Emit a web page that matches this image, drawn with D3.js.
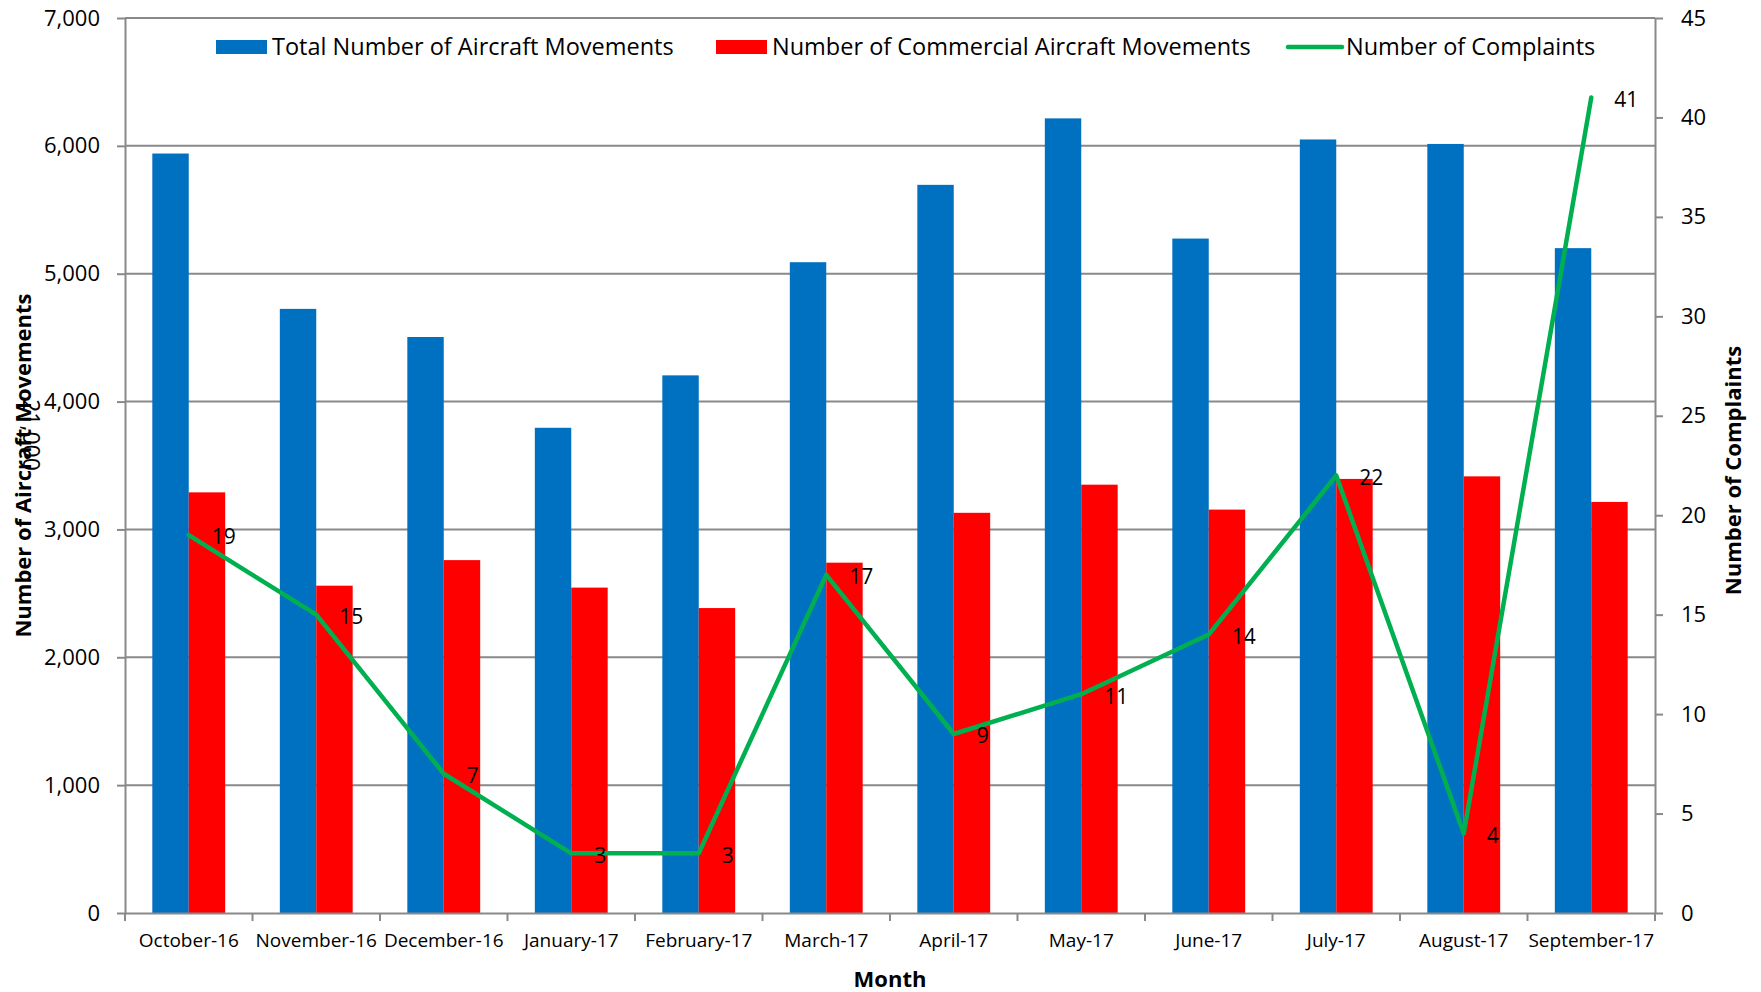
<!DOCTYPE html>
<html>
<head>
<meta charset="utf-8">
<script src="https://cdn.jsdelivr.net/npm/d3@7"></script>
<style>
  body { margin: 0; background: #fff; }
  svg text { font-family: "Open Sans", sans-serif; fill: #000; }
  .axis path, .axis line { stroke: #898989; stroke-width: 2; }
  .grid line { stroke: #898989; stroke-width: 2; }
</style>
</head>
<body>
<div id="chart"></div>
<script>
var months = ["October-16","November-16","December-16","January-17","February-17","March-17",
              "April-17","May-17","June-17","July-17","August-17","September-17"]
var totalMovements = [5940,4725,4505,3795,4205,5090,5695,6215,5275,6050,6015,5200]
var commercialMovements = [3290,2560,2760,2545,2385,2740,3130,3350,3155,3395,3415,3215]
var complaints = [19,15,7,3,3,17,9,11,14,22,4,41]
var leftTicks = [0,1000,2000,3000,4000,5000,6000,7000]
var rightTicks = [0,5,10,15,20,25,30,35,40,45]
var seriesNames = ["Total Number of Aircraft Movements","Number of Commercial Aircraft Movements","Number of Complaints"]

var W = 1761, H = 992
var m = {left:125, right:1655, top:18, bottom:913}
var colours = {total:"#0070C0", commercial:"#FF0000", complaints:"#00B050"}

var svg = d3.select("#chart").append("svg").attr("width",W).attr("height",H)

var x = d3.scaleBand().domain(months).range([m.left,m.right]).padding(0)
var xs = d3.scaleBand().domain(["total","commercial"]).range([0,x.bandwidth()]).paddingInner(0).paddingOuter(0.75)
var yL = d3.scaleLinear().domain([0,7000]).range([m.bottom,m.top])
var yR = d3.scaleLinear().domain([0,45]).range([m.bottom,m.top])

var rows = months.map((d,i)=>({month:d,total:totalMovements[i],commercial:commercialMovements[i],complaints:complaints[i]}))

// gridlines
svg.append("g").classed("grid",true).selectAll("line").data(leftTicks.slice(1)).enter()
  .append("line")
  .attr("x1",m.left).attr("x2",m.right)
  .attr("y1",d=>yL(d)).attr("y2",d=>yL(d))

// bars
var groups = svg.append("g").selectAll("g").data(rows).enter().append("g")
  .attr("transform",d=>"translate("+x(d.month)+",0)")
groups.selectAll("rect").data(d=>["total","commercial"].map(k=>({key:k,value:d[k]}))).enter()
  .append("rect")
  .attr("x",d=>xs(d.key))
  .attr("width",xs.bandwidth())
  .attr("y",d=>yL(d.value))
  .attr("height",d=>yL(0)-yL(d.value))
  .attr("fill",d=>colours[d.key])

// left axis
var axL = svg.append("g").classed("axis",true).attr("transform","translate("+m.left+",0)")
  .call(d3.axisLeft(yL).tickValues(leftTicks).tickFormat(d3.format(",")).tickSize(8).tickSizeOuter(0).tickPadding(17))
axL.selectAll("text").style("font-size","22px")

// right axis
var axR = svg.append("g").classed("axis",true).attr("transform","translate("+m.right+",0)")
  .call(d3.axisRight(yR).tickValues(rightTicks).tickSize(8).tickSizeOuter(0).tickPadding(18))
axR.selectAll("text").style("font-size","22px")

// bottom axis: labels centred on bands, ticks between bands
var axB = svg.append("g").classed("axis",true).attr("transform","translate(0,"+m.bottom+")")
  .call(d3.axisBottom(x).tickSize(0).tickSizeOuter(0).tickPadding(21))
axB.selectAll("text").style("font-size","19px")
var bounds = months.map(d=>x(d)).concat([x(months[months.length-1])+x.bandwidth()])
axB.selectAll("line.sep").data(bounds).enter().append("line").classed("sep",true)
  .attr("x1",d=>d).attr("x2",d=>d).attr("y1",0).attr("y2",8)

// complaints line
var line = d3.line().x(d=>x(d.month)+x.bandwidth()/2).y(d=>yR(d.complaints))
svg.append("path").datum(rows)
  .attr("d",line)
  .attr("fill","none")
  .attr("stroke",colours.complaints)
  .attr("stroke-width",4.5)
  .attr("stroke-linejoin","round")
  .attr("stroke-linecap","round")

svg.append("g").selectAll("text").data(rows).enter().append("text")
  .attr("x",d=>x(d.month)+x.bandwidth()/2+23)
  .attr("y",d=>yR(d.complaints)+2)
  .attr("dy","0.35em")
  .style("font-size","21px")
  .text(d=>d.complaints)

// axis titles
svg.append("text")
  .attr("transform","translate(23,"+((m.top+m.bottom)/2)+") rotate(-90)")
  .attr("text-anchor","middle").attr("dy","0.35em")
  .style("font-size","22px").style("font-weight","bold")
  .text("Number of Aircraft Movements")
// stray overlapping label seen in the original
svg.append("text")
  .attr("transform","translate(31,435) rotate(90)")
  .attr("text-anchor","middle").attr("dy","0.35em")
  .style("font-size","23px")
  .text("21,000")

svg.append("text")
  .attr("transform","translate(1733,"+((m.top+m.bottom)/2+5)+") rotate(-90)")
  .attr("text-anchor","middle").attr("dy","0.35em")
  .style("font-size","22px").style("font-weight","bold")
  .text("Number of Complaints")

svg.append("text")
  .attr("x",(m.left+m.right)/2).attr("y",979)
  .attr("text-anchor","middle").attr("dy","0.35em")
  .style("font-size","22px").style("font-weight","bold")
  .text("Month")

// legend
var legendX = [216,716,1288]
var leg = svg.append("g").selectAll("g").data(seriesNames).enter().append("g")
  .attr("transform",(d,i)=>"translate("+legendX[i]+",47)")
leg.filter((d,i)=>i<2).append("rect")
  .attr("x",0).attr("y",-7).attr("width",51).attr("height",14)
  .attr("fill",(d,i)=>i==0?colours.total:colours.commercial)
leg.filter((d,i)=>i==2).append("line")
  .attr("x1",0).attr("x2",54).attr("y1",0).attr("y2",0)
  .attr("stroke",colours.complaints).attr("stroke-width",4.5).attr("stroke-linecap","round")
leg.append("text")
  .attr("x",(d,i)=>i==2?58:56).attr("dy","0.35em")
  .style("font-size","23.5px")
  .text(d=>d)
</script>
</body>
</html>
